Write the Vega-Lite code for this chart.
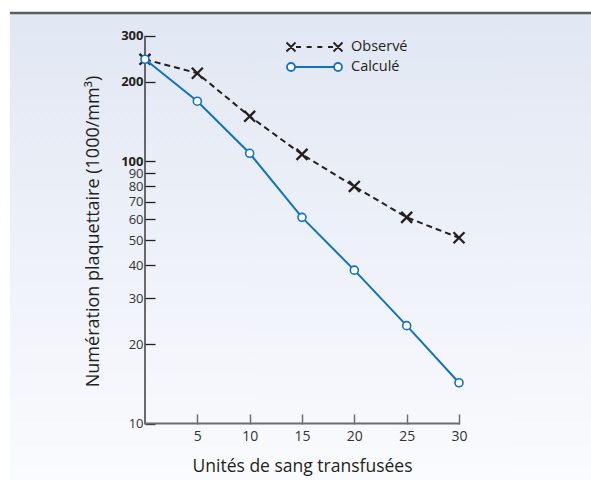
{
  "$schema": "https://vega.github.io/schema/vega-lite/v6.json",
  "width": 581,
  "height": 467,
  "autosize": {"type": "none"},
  "padding": {"left": 10, "top": 13, "right": 0, "bottom": 5},
  "background": "white",
  "config": {
    "font": "Open Sans",
    "view": {
      "stroke": null,
      "fill": {"gradient": "linear", "x1": 0, "y1": 0, "x2": 0, "y2": 1,
        "stops": [{"offset": 0, "color": "#e1e7f3"}, {"offset": 1, "color": "#fafbfe"}]}
    },
    "legend": {"symbolFillColor": "white"}
  },
  "data": {
    "values": [
      {"units": 0, "value": 244, "series": "Observé"},
      {"units": 5, "value": 216, "series": "Observé"},
      {"units": 10, "value": 148, "series": "Observé"},
      {"units": 15, "value": 106, "series": "Observé"},
      {"units": 20, "value": 80, "series": "Observé"},
      {"units": 25, "value": 61, "series": "Observé"},
      {"units": 30, "value": 51, "series": "Observé"},
      {"units": 0, "value": 244, "series": "Calculé"},
      {"units": 5, "value": 169, "series": "Calculé"},
      {"units": 10, "value": 107, "series": "Calculé"},
      {"units": 15, "value": 61, "series": "Calculé"},
      {"units": 20, "value": 38.4, "series": "Calculé"},
      {"units": 25, "value": 23.6, "series": "Calculé"},
      {"units": 30, "value": 14.3, "series": "Calculé"}
    ]
  },
  "layer": [
    {
      "transform": [{"filter": "datum.series === 'Observé'"}],
      "mark": {"type": "line", "color": "#231f20", "strokeWidth": 2, "strokeDash": [6, 4]},
      "encoding": {
        "x": {
          "field": "units", "type": "quantitative",
          "scale": {"domain": [-12.898, 42.611], "nice": false, "zero": false},
          "axis": {
            "title": "Unités de sang transfusées",
            "values": [5, 10, 15, 20, 25, 30],
            "offset": -56,
            "grid": false,
            "domain": false,
            "tickSize": -10,
            "tickColor": "#6d6e71",
            "tickWidth": 1.5,
            "labelPadding": 15,
            "labelFontSize": 14,
            "labelColor": "#333333",
            "labelOverlap": false,
            "titleFontSize": 17.5,
            "titleFontWeight": "normal",
            "titleColor": "#231f20",
            "titleX": 292,
            "titleY": 42,
            "titleBaseline": "middle"
          }
        },
        "y": {
          "field": "value", "type": "quantitative",
          "scale": {"type": "log", "domain": [6.093, 366.3], "nice": false, "zero": false},
          "axis": {
            "title": "Numération plaquettaire (1000/mm³)",
            "values": [10, 20, 30, 40, 50, 60, 70, 80, 90, 100, 200, 300],
            "offset": -135,
            "grid": false,
            "domain": false,
            "tickSize": -10,
            "tickColor": "#231f20",
            "tickWidth": 1.3,
            "labelPadding": 12,
            "labelFontSize": 13,
            "labelOverlap": false,
            "labelBound": false,
            "labelColor": {"condition": {"test": "datum.value >= 100", "value": "#231f20"}, "value": "#333333"},
            "labelFontWeight": {"condition": {"test": "datum.value >= 100", "value": "bold"}, "value": "normal"},
            "titleFontSize": 18,
            "titleFontWeight": "normal",
            "titleColor": "#231f20",
            "titleX": -52,
            "titleY": 218,
            "titleBaseline": "middle"
          }
        }
      }
    },
    {
      "data": {"values": [{}]},
      "mark": {"type": "rule", "color": "#5e5e5e", "strokeWidth": 2.5},
      "encoding": {"y": {"datum": 366.3, "type": "quantitative"}}
    },
    {
      "data": {"values": [{}]},
      "mark": {"type": "rule", "color": "#231f20", "strokeWidth": 1.3},
      "encoding": {
        "x": {"datum": 0, "type": "quantitative"},
        "y": {"datum": 10, "type": "quantitative"},
        "y2": {"datum": 300}
      }
    },
    {
      "data": {"values": [{}]},
      "mark": {"type": "rule", "color": "#6d6e71", "strokeWidth": 2},
      "encoding": {
        "y": {"datum": 10, "type": "quantitative"},
        "x": {"datum": -0.1, "type": "quantitative"},
        "x2": {"datum": 30.1}
      }
    },
    {
      "transform": [{"filter": "datum.series === 'Observé'"}],
      "mark": {"type": "point", "shape": "M-1,-1L1,1M-1,1L1,-1", "size": 120, "stroke": "#231f20", "strokeWidth": 2.3, "filled": false, "opacity": 1},
      "encoding": {
        "x": {"field": "units", "type": "quantitative"},
        "y": {"field": "value", "type": "quantitative"}
      }
    },
    {
      "transform": [{"filter": "datum.series === 'Calculé'"}],
      "mark": {"type": "line", "color": "#1272bb", "strokeWidth": 2},
      "encoding": {
        "x": {"field": "units", "type": "quantitative"},
        "y": {"field": "value", "type": "quantitative"}
      }
    },
    {
      "transform": [{"filter": "datum.series === 'Calculé'"}],
      "mark": {"type": "point", "shape": "circle", "size": 64, "fill": "white", "stroke": "#1272bb", "strokeWidth": 1.6, "filled": true, "opacity": 1},
      "encoding": {
        "x": {"field": "units", "type": "quantitative"},
        "y": {"field": "value", "type": "quantitative"}
      }
    },
    {
      "transform": [{"filter": "false"}],
      "mark": {"type": "point", "fill": "white", "filled": true, "strokeWidth": 1.8, "opacity": 1},
      "encoding": {
        "x": {"field": "units", "type": "quantitative"},
        "y": {"field": "value", "type": "quantitative"},
        "shape": {
          "field": "series", "type": "nominal",
          "scale": {"domain": ["Observé", "Calculé"], "range": [
            "M-2.8,-0.45L-1.9,0.45M-2.8,0.45L-1.9,-0.45M1.9,-0.45L2.8,0.45M1.9,0.45L2.8,-0.45M-1.85,0L-1.35,0M-0.783,0L-0.283,0M0.283,0L0.783,0M1.35,0L1.85,0",
            "M-2.75,0A0.4,0.4 0 1,0 -1.95,0A0.4,0.4 0 1,0 -2.75,0M1.95,0A0.4,0.4 0 1,0 2.75,0A0.4,0.4 0 1,0 1.95,0M-1.95,0L1.95,0"
          ]},
          "legend": {
            "title": null,
            "orient": "none",
            "legendX": 293.5,
            "legendY": 23,
            "symbolSize": 400,
            "symbolStrokeWidth": 1.8,
            "symbolFillColor": "white",
            "labelFontSize": 14.5,
            "labelColor": "#231f20",
            "labelOffset": 25.5,
            "rowPadding": 0,
            "padding": 0
          }
        },
        "stroke": {
          "field": "series", "type": "nominal",
          "scale": {"domain": ["Observé", "Calculé"], "range": ["#231f20", "#1272bb"]},
          "legend": {
            "title": null,
            "orient": "none",
            "legendX": 293.5,
            "legendY": 23
          }
        }
      }
    }
  ]
}
